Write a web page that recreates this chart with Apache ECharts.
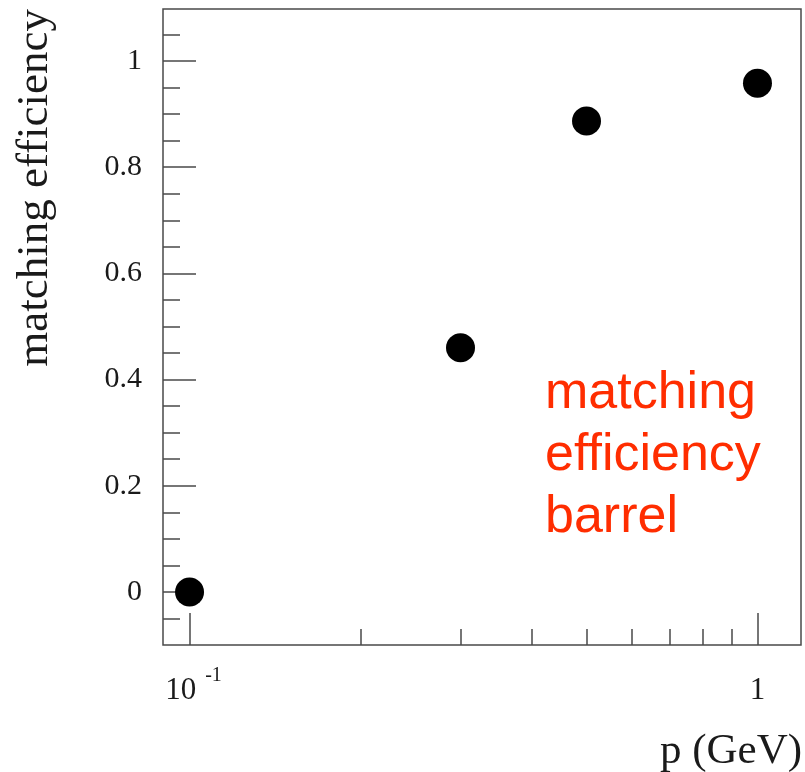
<!DOCTYPE html>
<html>
<head>
<meta charset="utf-8">
<script src="https://cdn.jsdelivr.net/npm/echarts@6/dist/echarts.min.js"></script>
<style>
  html, body { margin: 0; padding: 0; background: #ffffff; }
  #chart { width: 805px; height: 772px; }
</style>
</head>
<body>
<div id="chart"></div>
<script>
// Matching efficiency versus momentum (barrel)
const momentum = [0.1, 0.3, 0.5, 1.0];          // p (GeV)
const efficiency = [0.0, 0.46, 0.887, 0.958];   // matching efficiency

// Axis ticks and labels
const xMajorTicks = [0.1, 1];
const xMinorTicks = [0.2, 0.3, 0.4, 0.5, 0.6, 0.7, 0.8, 0.9];
const yMajorTicks = [0, 0.2, 0.4, 0.6, 0.8, 1];
const yMinorTicks = [-0.05, 0.05, 0.1, 0.15, 0.25, 0.3, 0.35, 0.45, 0.5, 0.55,
                     0.65, 0.7, 0.75, 0.85, 0.9, 0.95, 1.05];
const yTickLabels = ['0', '0.2', '0.4', '0.6', '0.8', '1'];

const xTitle = 'p (GeV)';
const yTitle = 'matching efficiency';
const noteText = ['matching', 'efficiency', 'barrel'];

const X_MIN = 0.0898, X_MAX = 1.193;
const Y_MIN = -0.1, Y_MAX = 1.098;

const SERIF = '"Liberation Serif", "DejaVu Serif", serif';
const SANS = '"Liberation Sans", Arial, sans-serif';
const FRAME = '#4a4a4a';
const INK = '#1a1a1a';

const points = momentum.map((p, i) => [p, efficiency[i]]);

const chart = echarts.init(document.getElementById('chart'), null, { renderer: 'canvas' });

chart.setOption({
  backgroundColor: '#ffffff',
  animation: false,
  grid: {
    left: 163, right: 4, top: 9, bottom: 127,
    containLabel: false,
    outerBoundsMode: 'none',
    show: true, borderColor: FRAME, borderWidth: 1.5,
    backgroundColor: 'transparent'
  },
  xAxis: [
    {
      type: 'log', logBase: 10, min: X_MIN, max: X_MAX,
      position: 'bottom',
      axisLine: { show: false, onZero: false },
      splitLine: { show: false },
      axisTick: {
        show: true, inside: true, length: 32,
        customValues: xMajorTicks,
        lineStyle: { color: FRAME, width: 1.5 }
      },
      axisLabel: {
        show: true, margin: 21,
        customValues: xMajorTicks,
        formatter: function (v) {
          const e = Math.round(Math.log10(v));
          if (e === 0) return '{b|1}';
          return '{p|10}{s|' + e + '}';
        },
        rich: {
          b: { fontFamily: SERIF, fontSize: 31, lineHeight: 50, color: INK },
          p: { fontFamily: SERIF, fontSize: 31, lineHeight: 50, color: INK, padding: [0, 0, 0, 8] },
          s: { fontFamily: SERIF, fontSize: 20, lineHeight: 20, color: INK,
               verticalAlign: 'top', padding: [0, 0, 6, 9] }
        }
      }
    },
    {
      type: 'log', logBase: 10, min: X_MIN, max: X_MAX,
      position: 'bottom', offset: 0,
      axisLine: { show: false, onZero: false },
      splitLine: { show: false },
      axisLabel: { show: false },
      axisTick: {
        show: true, inside: true, length: 16,
        customValues: xMinorTicks,
        lineStyle: { color: FRAME, width: 1.5 }
      }
    }
  ],
  yAxis: [
    {
      type: 'value', min: Y_MIN, max: Y_MAX,
      position: 'left',
      axisLine: { show: false, onZero: false },
      splitLine: { show: false },
      axisTick: {
        show: true, inside: true, length: 33,
        customValues: yMajorTicks,
        lineStyle: { color: FRAME, width: 1.5 }
      },
      axisLabel: {
        show: true, margin: 21,
        customValues: yMajorTicks,
        formatter: function (v) {
          const i = yMajorTicks.findIndex(t => Math.abs(t - v) < 1e-9);
          return i >= 0 ? yTickLabels[i] : '';
        },
        fontFamily: SERIF, fontSize: 30, color: INK
      }
    },
    {
      type: 'value', min: Y_MIN, max: Y_MAX,
      position: 'left', offset: 0,
      axisLine: { show: false, onZero: false },
      splitLine: { show: false },
      axisLabel: { show: false },
      axisTick: {
        show: true, inside: true, length: 17,
        customValues: yMinorTicks,
        lineStyle: { color: FRAME, width: 1.5 }
      }
    }
  ],
  graphic: [
    {
      // axis title, x
      type: 'text',
      x: 802, y: 752,
      style: {
        text: xTitle,
        font: '43px ' + SERIF,
        fill: INK,
        align: 'right', verticalAlign: 'middle',
        textAlign: 'right', textVerticalAlign: 'middle'
      }
    },
    {
      // axis title, y (rotated, reading upwards)
      type: 'text',
      x: 35, y: 9,
      rotation: Math.PI / 2,
      style: {
        text: yTitle,
        font: '45px ' + SERIF,
        fill: INK,
        align: 'right', verticalAlign: 'middle',
        textAlign: 'right', textVerticalAlign: 'middle'
      }
    },
    {
      type: 'text',
      left: 545, top: 363,
      z: 10,
      style: {
        text: noteText.join('\n'),
        font: '52px ' + SANS,
        lineHeight: 62,
        fill: '#ff2d00'
      }
    }
  ],
  series: [
    {
      type: 'scatter',
      xAxisIndex: 0, yAxisIndex: 0,
      data: points,
      symbol: 'circle',
      symbolSize: 29,
      itemStyle: { color: '#000000', opacity: 1 },
      emphasis: { disabled: true },
      z: 5
    }
  ]
});
</script>
</body>
</html>
